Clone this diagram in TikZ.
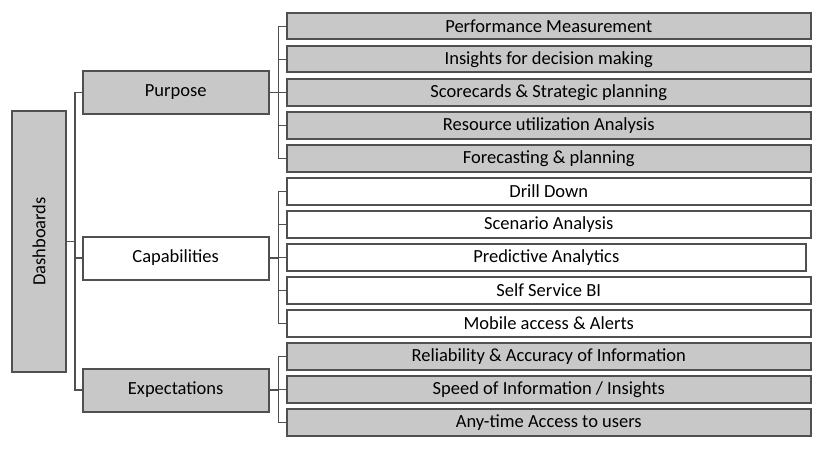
\documentclass[tikz,border=0pt]{standalone}
\usepackage{fontspec}
\setmainfont{Carlito}
\usetikzlibrary{positioning}
\definecolor{boxgray}{HTML}{C8C8C8}
\definecolor{linegray}{HTML}{505050}

\begin{document}
\begin{tikzpicture}[x=1pt,y=-1pt,
    box/.style={draw=linegray, line width=2pt, text=black, font=\fontsize{18.5}{20}\selectfont, inner sep=0pt},
    head/.style={box, minimum width=186pt, minimum height=43pt},
    leaf/.style={box, anchor=west, minimum height=26.5pt},
    link/.style={draw=linegray, line width=1.2pt}]
    \useasboundingbox (0,0) rectangle (826,448);
    \node[box, fill=boxgray, minimum width=54pt, minimum height=261pt] (dash) at (39,241.5) {\rotatebox{90}{Dashboards}};
    \node[head, fill=boxgray] (purpose) at (175.7,92.5) {Purpose};
    \node[head] (capab) at (175.7,258) {Capabilities};
    \node[head, fill=boxgray] (expect) at (175.7,390) {Expectations};
    \foreach \n in {purpose, capab, expect}
        \draw[link] (dash.east) -- ++(8,0) |- (\n.west);
    % purpose
    \foreach \txt [count=\i from 0] in {Performance Measurement, Insights for decision making,
        Scorecards \& Strategic planning, Resource utilization Analysis, Forecasting \& planning}
    {
        \node[leaf, fill=boxgray, minimum width=524.5pt] (p\i) at (285.5,26.2+33.03*\i) {\txt};
        \draw[link] (purpose.east) -- ++(8.5,0) |- (p\i.west);
    }
    % capabilities
    \foreach \txt/\bw [count=\i from 5] in {Drill Down/524.5, Scenario Analysis/524.5,
        Predictive Analytics/519.5, Self Service BI/524.5, Mobile access \& Alerts/524.5}
    {
        \node[leaf, fill=white, minimum width=\bw pt] (c\i) at (285.5,26.2+33.03*\i) {\txt};
        \draw[link] (capab.east) -- ++(8.5,0) |- (c\i.west);
    }
    % expectations
    \foreach \txt [count=\i from 10] in {Reliability \& Accuracy of Information,
        Speed of Information / Insights, Any-time Access to users}
    {
        \node[leaf, fill=boxgray, minimum width=524.5pt] (e\i) at (285.5,26.2+33.03*\i) {\txt};
        \draw[link] (expect.east) -- ++(8.5,0) |- (e\i.west);
    }
\end{tikzpicture}
\end{document}
